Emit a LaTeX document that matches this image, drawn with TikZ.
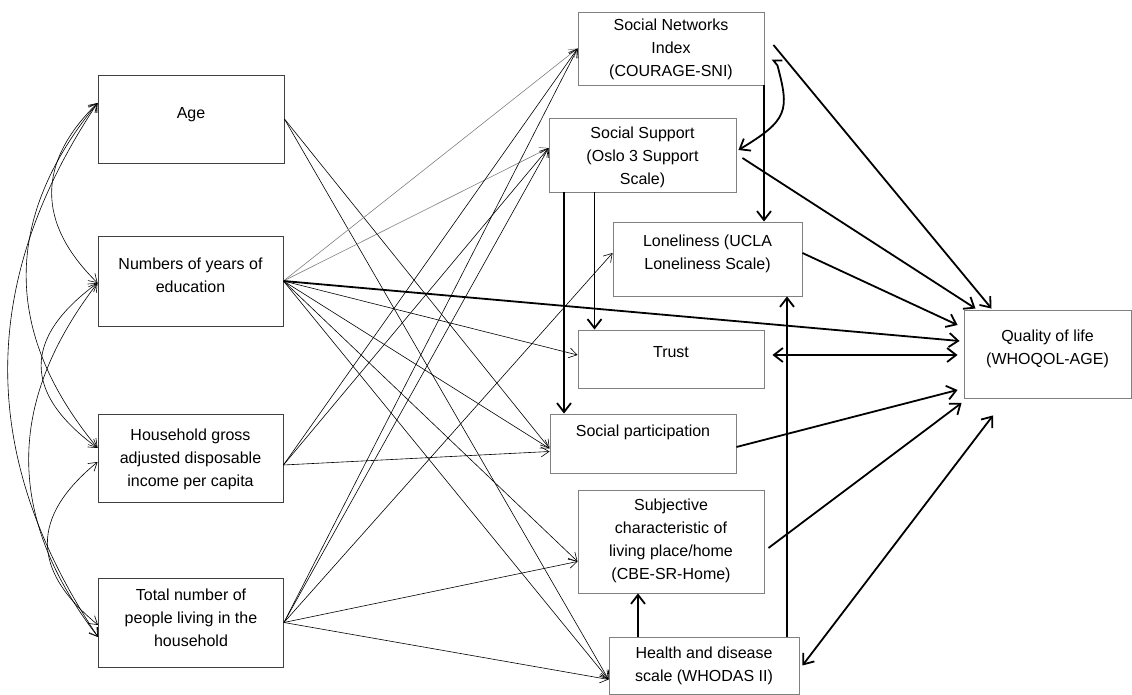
\documentclass[tikz,border=0pt]{standalone}
\usepackage{fontspec}
\setmainfont{Liberation Sans}
\usetikzlibrary{arrows.meta}
\begin{document}
\begin{tikzpicture}[x=1pt, y=1pt,
	box/.style={draw=black!50, line width=0.9pt, rectangle, align=center, inner sep=0pt, font=\fontsize{16}{23}\selectfont},
	exo/.style={box, draw=black!75},
	tb/.style 2 args={text height=#1, text depth=#2},
	thinarr/.style={-{Straight Barb[length=8, width=10]}, line width=0.6pt},
	grayarr/.style={thinarr, draw=black!50},
	corr/.style={{Straight Barb[length=8, width=10]}-{Straight Barb[length=8, width=10]}, line width=0.6pt},
	thickarr/.style={-{Straight Barb[length=9, width=14]}, line width=1.8pt},
	thickboth/.style={{Straight Barb[length=9, width=14]}-{Straight Barb[length=9, width=14]}, line width=1.8pt}]
	\useasboundingbox (0,0) rectangle (1132,695);
	% Background variables
	\node[exo, minimum width=186, minimum height=88, tb={12}{12}] (age) at (191,576) {Age};
	\node[exo, minimum width=185, minimum height=90, tb={35}{11}] (edu) at (190.5,414) {Numbers of years of\\education};
	\node[exo, minimum width=185, minimum height=88, tb={58}{0}] (inc) at (190.5,237) {Household gross\\adjusted disposable\\income per capita};
	\node[exo, minimum width=185, minimum height=89, tb={58}{9}] (tot) at (191,72.5) {Total number of\\people living in the\\household};
	% Mediators
	\node[box, minimum width=186, minimum height=73, tb={58}{1}] (sni) at (671,646.5) {Social Networks\\Index\\(COURAGE-SNI)};
	\node[box, minimum width=187, minimum height=74, tb={63}{3}] (sup) at (642.5,540) {Social Support\\(Oslo 3 Support\\Scale)};
	\node[box, minimum width=189, minimum height=74, tb={35}{14.4}] (lon) at (707.5,436) {Loneliness (UCLA\\Loneliness Scale)};
	\node[box, minimum width=186, minimum height=58, tb={12}{14}] (tru) at (671,336) {Trust};
	\node[box, minimum width=186, minimum height=59, tb={12}{25}] (par) at (643,251.5) {Social participation};
	\node[box, minimum width=186, minimum height=103, tb={81}{4}] (sub) at (671,153.5) {Subjective\\characteristic of\\living place/home\\(CBE-SR-Home)};
	\node[box, minimum width=190, minimum height=57, tb={35}{2.6}] (hea) at (704,29.5) {Health and disease\\scale (WHODAS II)};
	% Outcome
	\node[box, minimum width=167, minimum height=88, tb={35}{13}] (qol) at (1047.5,341) {Quality of life\\(WHOQOL-AGE)};

	% Correlations
	\draw[corr] ([yshift=16]age.west) .. controls +(-61,-60) and +(-61,60) .. ([yshift=-2]edu.west);
	\draw[corr] ([yshift=16]age.west) .. controls +(-95,-115) and +(-95,115) .. ([yshift=10]inc.west);
	\draw[corr] ([yshift=16]age.west) .. controls +(-120,-180) and +(-120,180) .. ([yshift=-14.5]tot.west);
	\draw[corr] ([yshift=-2]edu.west) .. controls +(-75,-55) and +(-75,55) .. ([yshift=10]inc.west);
	\draw[corr] ([yshift=-2]edu.west) .. controls +(-92,-120) and +(-92,120) .. ([yshift=-14.5]tot.west);
	\draw[corr] ([yshift=-4]inc.west) .. controls +(-67,-55) and +(-67,55) .. ([yshift=-2.5]tot.west);

	% Age
	\foreach \t/\s in {par/-5, hea/-14} {
		\draw[thinarr] (age.east) -- ([yshift=\s]\t.west);
	}
	% Education
	\foreach \t/\s in {sni/0, sup/7} {
		\draw[grayarr] (edu.east) -- ([yshift=\s]\t.west);
	}
	\foreach \t/\s in {tru/4, par/-5, sub/-20, hea/-14} {
		\draw[thinarr] (edu.east) -- ([yshift=\s]\t.west);
	}
	% Income
	\foreach \t/\s in {sni/0, sup/7, par/-8} {
		\draw[thinarr] ([yshift=-7]inc.east) -- ([yshift=\s]\t.west);
	}
	% Household size
	\foreach \t/\s in {sni/0, sup/7, lon/6, sub/-20, hea/-14} {
		\draw[thinarr] (tot.east) -- ([yshift=\s]\t.west);
	}

	% Among mediators
	\draw[thickarr] ([xshift=93]sni.south) -- ([xshift=56.5]lon.north);
	\draw[thickarr] ([xshift=-48]sup.south) -- ([xshift=-76.5]tru.north);
	\draw[thickarr] ([xshift=-78.5]sup.south) -- ([xshift=-79]par.north);
	\draw[thickarr] ([xshift=-66]hea.north) -- ([xshift=-33]sub.south);
	\draw[thickarr] ([xshift=83]hea.north) -- ([xshift=79.5]lon.south);
	\draw[thickarr] ([xshift=18,yshift=-12]sni.east) -- ++(-9,0) -- ++(4,-5)
		.. controls +(12,-45) and +(50,30) .. ([xshift=2,yshift=5]sup.east);

	% To quality of life
	\draw[thickarr] (edu.east) -- ([xshift=-4,yshift=13]qol.west);
	\draw[thickarr] ([xshift=9,yshift=3.5]sni.east) -- ([xshift=-56,yshift=1]qol.north);
	\draw[thickarr] ([xshift=6,yshift=-3]sup.east) -- ([xshift=-72,yshift=1]qol.north);
	\draw[thickarr] ([yshift=6]lon.east) -- ([xshift=-6,yshift=29]qol.west);
	\draw[thickboth] ([xshift=8,yshift=4]tru.east) -- ([xshift=-6,yshift=-1]qol.west);
	\draw[thickarr] ([yshift=-3.5]par.east) -- ([xshift=-6,yshift=-36]qol.west);
	\draw[thickarr] ([xshift=4,yshift=-6.5]sub.east) -- ([xshift=-2,yshift=-49]qol.west);
	\draw[thickboth] ([xshift=3]hea.east) -- ([xshift=-54.5,yshift=-17]qol.south);
\end{tikzpicture}
\end{document}
